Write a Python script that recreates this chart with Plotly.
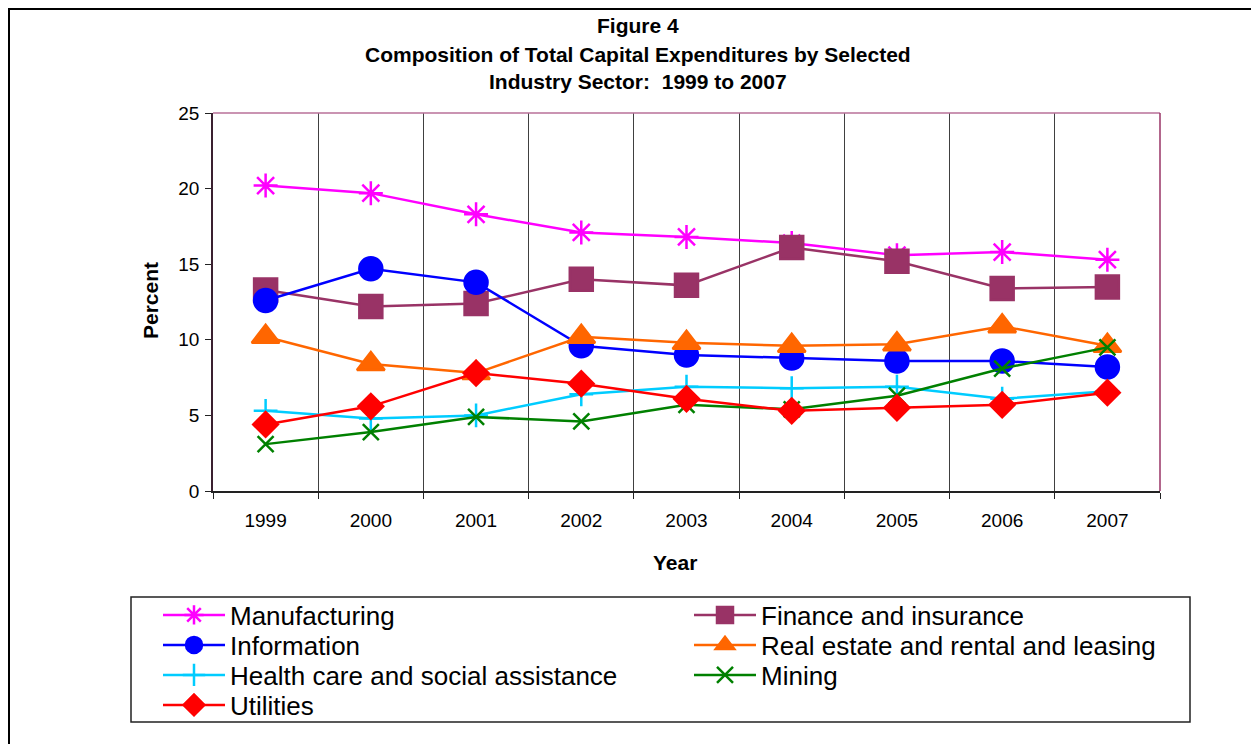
import plotly.graph_objects as go

years = ["1999", "2000", "2001", "2002", "2003", "2004", "2005", "2006", "2007"]

manufacturing = [20.2, 19.7, 18.3, 17.1, 16.8, 16.4, 15.6, 15.8, 15.3]
finance = [13.3, 12.2, 12.4, 14.0, 13.6, 16.1, 15.2, 13.4, 13.5]
information = [12.6, 14.7, 13.8, 9.6, 9.0, 8.8, 8.6, 8.6, 8.2]
real_estate = [10.2, 8.4, 7.8, 10.2, 9.8, 9.6, 9.7, 10.9, 9.6]
health = [5.3, 4.8, 5.0, 6.4, 6.9, 6.8, 6.9, 6.1, 6.6]
mining = [3.1, 3.9, 4.9, 4.6, 5.7, 5.4, 6.3, 8.1, 9.5]
utilities = [4.4, 5.6, 7.8, 7.1, 6.1, 5.3, 5.5, 5.7, 6.5]

y_ticks = [0, 5, 10, 15, 20, 25]

title_lines = ["Figure 4",
               "Composition of Total Capital Expenditures by Selected",
               "Industry Sector:\u00a0 1999 to 2007"]

# page-pixel layout (the page body adds an 8px offset)
OFF = 8
W, H = 1259 - OFF, 744 - OFF
L, R, T, B = 213, 1160, 113, 491
PW, PH = R - L, B - T


def xp(px):
    return (px - L) / PW


def yp(py):
    return (B - py) / PH


FONT = "Arial, Liberation Sans, sans-serif"

series = [
    ("Manufacturing", manufacturing, "#FF00FF", "asterisk-open", 20),
    ("Finance and insurance", finance, "#993366", "square", 23),
    ("Information", information, "#0000FF", "circle", 23),
    ("Real estate and rental and leasing", real_estate, "#FF6600", "triangle-up", 24),
    ("Health care and social assistance", health, "#00CCFF", "cross-thin-open", 17),
    ("Mining", mining, "#008000", "x-thin-open", 16),
    ("Utilities", utilities, "#FF0000", "diamond", 19),
]

# legend slot positions (column left, row center) in page pixels
legend_pos = [(158, 615), (689, 615), (158, 645), (689, 645),
              (158, 675), (689, 675), (158, 705)]

fig = go.Figure()
legend_layout = {}
for i, (name, vals, color, sym, size) in enumerate(series):
    lg = "legend" if i == 0 else "legend%d" % (i + 1)
    fig.add_trace(go.Scatter(
        x=years, y=vals, name=name, mode="lines+markers", legend=lg,
        line=dict(color=color, width=2.5),
        marker=dict(symbol=sym, size=size, color=color,
                    line=dict(color=color, width=2.5)),
    ))
    lx, ly = legend_pos[i]
    legend_layout[lg] = dict(
        x=xp(lx), xanchor="left", y=yp(ly), yanchor="middle",
        font=dict(family=FONT, size=26, color="black"),
        itemwidth=62, borderwidth=0, bgcolor="rgba(0,0,0,0)",
    )

fig.update_layout(
    width=W, height=H,
    margin=dict(l=L - OFF, r=W - (R - OFF), t=T - OFF, b=H - (B - OFF), autoexpand=False),
    paper_bgcolor="white", plot_bgcolor="white",
    font=dict(family=FONT, color="black"),
    showlegend=True,
    xaxis=dict(
        type="category", range=[-0.5, 8.5], tickson="boundaries",
        ticks="outside", ticklen=6, tickcolor="#222", tickwidth=1,
        showgrid=True, gridcolor="#404040", gridwidth=1,
        showline=True, linecolor="#222", linewidth=1.5,
        tickfont=dict(family=FONT, size=19, color="black"),
        ticklabelstandoff=11, zeroline=False,
    ),
    yaxis=dict(
        range=[0, 25], tickvals=y_ticks, ticks="outside", ticklen=6,
        tickcolor="#222", tickwidth=1, showgrid=False, zeroline=False,
        showline=True, linecolor="#3a2030", linewidth=1.5,
        tickfont=dict(family=FONT, size=19, color="black"),
        ticklabelstandoff=2,
    ),
    **legend_layout,
)

# titles
for txt, ypx in zip(title_lines, [25, 54, 82]):
    fig.add_annotation(text="<b>%s</b>" % txt, x=xp(638), y=yp(ypx), xref="paper", yref="paper",
                       showarrow=False, xanchor="center", yanchor="middle",
                       font=dict(family=FONT, size=21, color="black"))

fig.add_annotation(text="<b>Year</b>", x=xp(675), y=yp(562), xref="paper", yref="paper",
                   showarrow=False, xanchor="center", yanchor="middle",
                   font=dict(family=FONT, size=21, color="black"))
fig.add_annotation(text="<b>Percent</b>", x=xp(150), y=yp(301), xref="paper", yref="paper",
                   showarrow=False, xanchor="center", yanchor="middle", textangle=-90,
                   font=dict(family=FONT, size=21, color="black"))

# plot-area top/right border
fig.add_shape(type="line", xref="paper", yref="paper", x0=0, x1=1, y0=1, y1=1,
              line=dict(color="#b87098", width=1.5))
fig.add_shape(type="line", xref="paper", yref="paper", x0=1, x1=1, y0=0, y1=1,
              line=dict(color="#993366", width=1.5))
# legend box
fig.add_shape(type="rect", xref="paper", yref="paper", x0=xp(131), x1=xp(1190),
              y0=yp(722), y1=yp(597), line=dict(color="#222", width=1.5), layer="below")
# outer frame
fig.add_shape(type="rect", xref="paper", yref="paper", x0=xp(OFF + 1), x1=xp(1256),
              y0=yp(760), y1=yp(OFF + 1), line=dict(color="black", width=2), layer="below")

fig.write_html("out.html")
